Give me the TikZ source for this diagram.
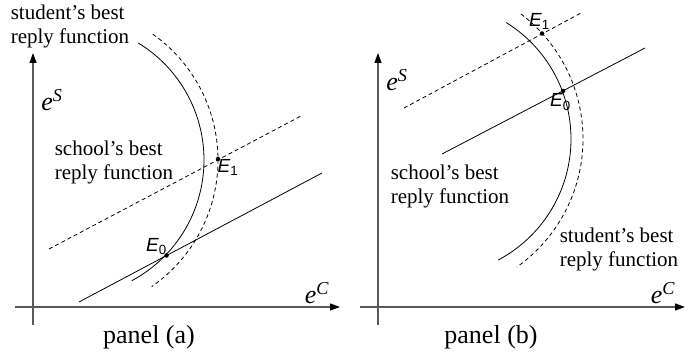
\documentclass[tikz,border=0pt]{standalone}
\usepackage{fontspec}
\setmainfont{Liberation Serif}
\newfontfamily\lsans{Liberation Sans}
\usetikzlibrary{arrows.meta}
\begin{document}
\begin{tikzpicture}[x=1pt,y=-1pt,
  axis/.style={draw=black!65, line width=1.2pt, -{Triangle[length=10pt,width=7pt,color=black]}},
  curve/.style={line width=0.8pt},
  dashcurve/.style={curve, dash pattern=on 4pt off 3pt},
  txt/.style={inner sep=0pt, align=left, font=\fontsize{21}{24}\selectfont},
  axlabel/.style={inner sep=0pt, font=\fontsize{26}{30}\selectfont\itshape},
  eqlabel/.style={inner sep=0.5pt, font=\fontsize{19}{20}\selectfont\lsans\itshape},
  dot/.style={circle, fill=black, inner sep=0pt, minimum size=4.5pt},
  paneltxt/.style={inner sep=0pt, font=\fontsize{26}{30}\selectfont}]
\useasboundingbox (0,0) rectangle (693,352);

% ---------- panel (a) ----------
\coordinate (aYb) at (33,325);
\coordinate (aYt) at (33,53);
\coordinate (aXl) at (15,307);
\coordinate (aXr) at (340,307);
\draw[axis] (aYb) -- (aYt);
\draw[axis] (aXl) -- (aXr);

\draw[curve, domain=-58.7:61.8, samples=80, smooth, variable=\t]
  plot ({67+137*cos(\t)},{160+137*sin(\t)});
\draw[dashcurve, domain=-54.8:55.3, samples=80, smooth, variable=\t]
  plot ({64+154*cos(\t)},{160+154*sin(\t)});

\coordinate (aS1) at (79,302);
\coordinate (aS2) at (322,173);
\coordinate (aD1) at (49,249);
\coordinate (aD2) at (301,116);
\draw[curve] (aS1) -- (aS2);
\draw[dashcurve] (aD1) -- (aD2);

\node[dot] (E0a) at (166.5,255.5) {};
\node[dot] (E1a) at (218,159) {};
\node[eqlabel, anchor=south east] (E0alab) at ([xshift=1pt]E0a.center) {E\textsubscript{\upshape 0}};
\node[eqlabel, anchor=north west] (E1alab) at ([xshift=-1pt]E1a.center) {E\textsubscript{\upshape 1}};

\node[txt] (studa) at (70,26) {student's best\\reply function};
\node[txt] (schoa) at (114,162) {school's best\\reply function};
\node[axlabel] (eSa) at (52,100) {e\textsuperscript{S}};
\node[axlabel] (eCa) at (317,293) {e\textsuperscript{C}};
\node[paneltxt] (pa) at (149,337) {panel (a)};

% ---------- panel (b) ----------
\coordinate (bYb) at (378,325);
\coordinate (bYt) at (378,53);
\coordinate (bXl) at (360,307);
\coordinate (bXr) at (685,307);
\draw[axis] (bYb) -- (bYt);
\draw[axis] (bXl) -- (bXr);

\draw[curve, domain=-58.2:62.1, samples=80, smooth, variable=\t]
  plot ({434+137*cos(\t)},{139+137*sin(\t)});
\draw[dashcurve, domain=-52.8:54.6, samples=80, smooth, variable=\t]
  plot ({426+157*cos(\t)},{139+157*sin(\t)});

\coordinate (bS1) at (442,154);
\coordinate (bS2) at (645,48);
\coordinate (bD1) at (404,108);
\coordinate (bD2) at (581,13);
\draw[curve] (bS1) -- (bS2);
\draw[dashcurve] (bD1) -- (bD2);

\node[dot] (E0b) at (563,91) {};
\node[dot] (E1b) at (542,33.5) {};
\node[eqlabel, anchor=north] (E0blab) at ([xshift=-2.5pt,yshift=-2pt]E0b.center) {E\textsubscript{\upshape 0}};
\node[eqlabel, anchor=south] (E1blab) at ([xshift=-2.5pt,yshift=3pt]E1b.center) {E\textsubscript{\upshape 1}};

\node[txt] (schob) at (450,186) {school's best\\reply function};
\node[txt] (studb) at (619,249) {student's best\\reply function};
\node[axlabel] (eSb) at (397,80) {e\textsuperscript{S}};
\node[axlabel] (eCb) at (663,293) {e\textsuperscript{C}};
\node[paneltxt] (pb) at (491,337) {panel (b)};
\end{tikzpicture}
\end{document}
